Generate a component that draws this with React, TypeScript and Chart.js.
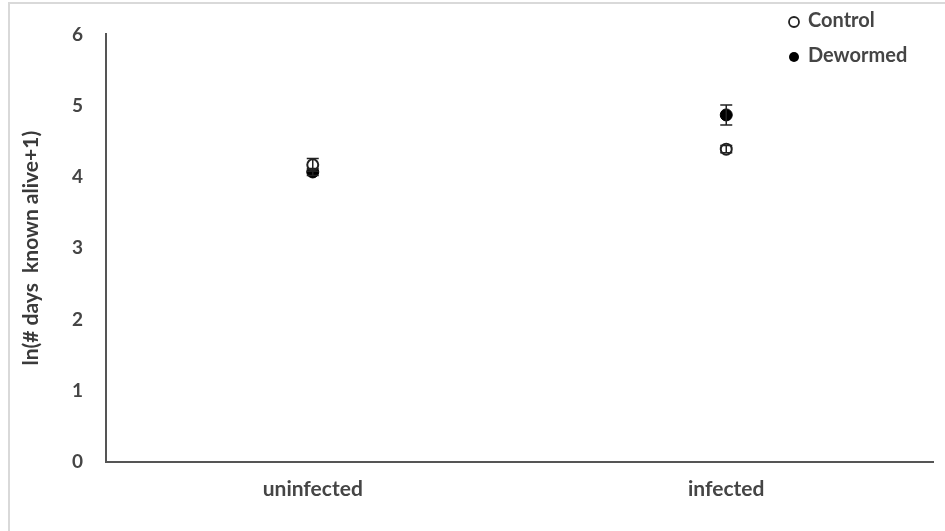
import React, { useEffect, useRef } from "react";
import { Chart, registerables } from "chart.js";

Chart.register(...registerables);

const categories = ["uninfected", "infected"];
const controlValues = [4.17, 4.39];
const controlErrors = [0.09, 0.05];
const dewormedValues = [4.07, 4.87];
const dewormedErrors = [0.05, 0.14];
const yTicks = [0, 1, 2, 3, 4, 5, 6];
const seriesNames = ["Control", "Dewormed"];

const FONT = "Lato, 'Open Sans', sans-serif";
const TEXT = "#454545";

const errorBarPlugin = {
  id: "errorBars",
  afterDatasetsDraw(chart: any) {
    const ctx = chart.ctx;
    const y = chart.scales.y;
    chart.data.datasets.forEach((ds: any, di: number) => {
      const meta = chart.getDatasetMeta(di);
      meta.data.forEach((pt: any, i: number) => {
        const v = ds.data[i];
        const e = ds.errors[i];
        const top = y.getPixelForValue(v + e);
        const bot = y.getPixelForValue(v - e);
        ctx.save();
        ctx.strokeStyle = "#222";
        ctx.lineWidth = 1.5;
        ctx.beginPath();
        ctx.moveTo(pt.x, top);
        ctx.lineTo(pt.x, bot);
        ctx.moveTo(pt.x - 6, top);
        ctx.lineTo(pt.x + 6, top);
        ctx.moveTo(pt.x - 6, bot);
        ctx.lineTo(pt.x + 6, bot);
        ctx.stroke();
        ctx.restore();
      });
    });
  },
};

const legendPlugin = {
  id: "customLegend",
  afterDraw(chart: any) {
    const ctx = chart.ctx;
    ctx.save();
    chart.data.datasets.forEach((ds: any, i: number) => {
      const cy = 21 + i * 35;
      const cx = 794;
      ctx.beginPath();
      ctx.arc(cx, cy + 1, 5, 0, Math.PI * 2);
      if (ds.pointBackgroundColor === "#000") {
        ctx.fillStyle = "#000";
        ctx.fill();
      } else {
        ctx.fillStyle = "#fff";
        ctx.fill();
        ctx.lineWidth = 1.8;
        ctx.strokeStyle = "#222";
        ctx.stroke();
      }
      ctx.fillStyle = TEXT;
      ctx.font = `bold 20px ${FONT}`;
      ctx.textBaseline = "middle";
      ctx.textAlign = "left";
      ctx.fillText(ds.label, 808, cy);
    });
    // frame lines
    ctx.strokeStyle = "#d9d9d9";
    ctx.lineWidth = 2;
    ctx.beginPath();
    ctx.moveTo(9, 531);
    ctx.lineTo(9, 3);
    ctx.lineTo(945, 3);
    ctx.stroke();
    ctx.restore();
  },
};

export default function App() {
  const ref = useRef<HTMLCanvasElement>(null);
  useEffect(() => {
    const chart = new Chart(ref.current!, {
      type: "line",
      data: {
        labels: categories,
        datasets: [
          {
            label: seriesNames[0],
            data: controlValues,
            errors: controlErrors,
            showLine: false,
            pointRadius: 5.5,
            pointBackgroundColor: "#fff",
            pointBorderColor: "#222",
            pointBorderWidth: 2,
          } as any,
          {
            label: seriesNames[1],
            data: dewormedValues,
            errors: dewormedErrors,
            showLine: false,
            pointRadius: 6,
            pointBackgroundColor: "#000",
            pointBorderColor: "#000",
            pointBorderWidth: 1,
          } as any,
        ],
      },
      options: {
        animation: false,
        responsive: false,
        layout: { padding: { left: 15, top: 32, right: 12, bottom: 0 } },
        plugins: { legend: { display: false }, tooltip: { enabled: false } },
        scales: {
          x: {
            type: "category",
            offset: true,
            grid: { display: false, drawTicks: false },
            border: { display: true, color: "#555", width: 2 },
            ticks: {
              padding: 15,
              color: TEXT,
              font: { family: FONT, size: 21, weight: "bold" },
            },
            afterFit(s: any) {
              s.height = 531 - 462;
            },
          },
          y: {
            min: 0,
            max: 6,
            afterBuildTicks(s: any) {
              s.ticks = yTicks.map((v) => ({ value: v }));
            },
            grid: { display: false, drawTicks: false },
            border: { display: true, color: "#555", width: 2 },
            ticks: {
              padding: 23,
              color: TEXT,
              font: { family: FONT, size: 19, weight: "bold" },
            },
            title: {
              display: true,
              text: "ln(# days  known alive+1)",
              color: "#3a3a3a",
              font: { family: FONT, size: 21, weight: "bold" },
              padding: { top: 4, bottom: 0 },
            },
            afterFit(s: any) {
              s.width = 106 - 15;
            },
          },
        },
      },
      plugins: [errorBarPlugin, legendPlugin],
    } as any);
    return () => chart.destroy();
  }, []);
  return (
    <div style={{ position: "fixed", left: 0, top: 0, width: 945, height: 531, background: "#fff" }}>
      <canvas ref={ref} width={945} height={531} />
    </div>
  );
}
